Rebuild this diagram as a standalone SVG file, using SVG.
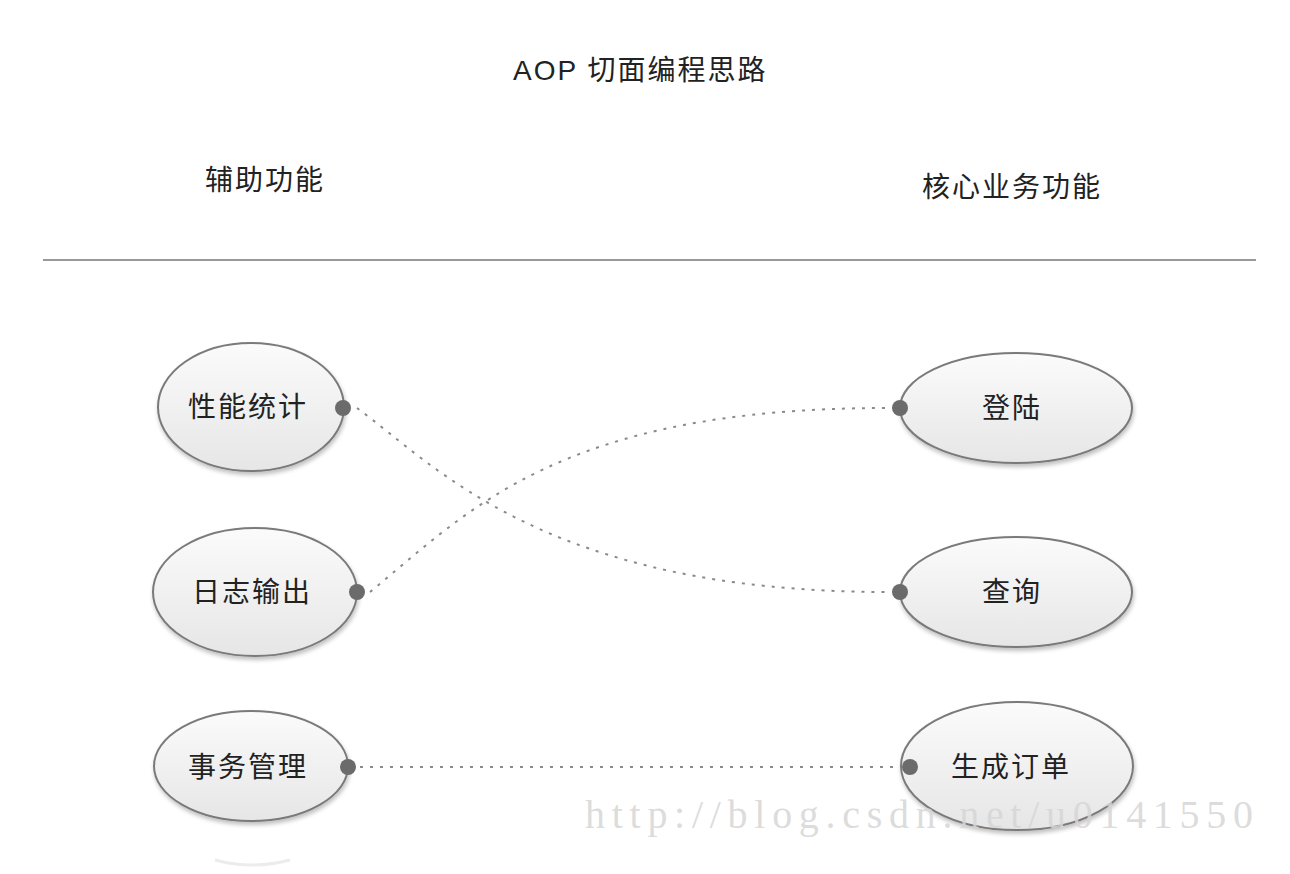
<svg xmlns="http://www.w3.org/2000/svg" width="1290" height="874" viewBox="0 0 1290 874">
<defs>
<linearGradient id="g" x1="0" y1="0" x2="0" y2="1">
<stop offset="0" stop-color="#fbfbfb"/>
<stop offset="1" stop-color="#e6e6e6"/>
</linearGradient>
<filter id="sh" x="-20%" y="-20%" width="140%" height="150%">
<feGaussianBlur in="SourceAlpha" stdDeviation="2"/>
<feOffset dx="1" dy="3"/>
<feComponentTransfer><feFuncA type="linear" slope="0.25"/></feComponentTransfer>
<feMerge><feMergeNode/><feMergeNode in="SourceGraphic"/></feMerge>
</filter>
</defs>
<style>
.t{font-family:"Liberation Sans","Noto Sans CJK SC",sans-serif;fill:#222;}
.h{font-size:28px;letter-spacing:2px;}
.n{font-size:28px;letter-spacing:2px;text-anchor:middle;}
.e{fill:url(#g);stroke:#7a7a7a;stroke-width:2;filter:url(#sh);}
.c{fill:none;stroke:#8a8a8a;stroke-width:2;stroke-dasharray:3 7;}
.d{fill:#6b6b6b;}
</style>
<rect width="1290" height="874" fill="#fff"/>
<text class="t h" x="513" y="80">AOP 切面编程思路</text>
<text class="t h" x="205" y="190">辅助功能</text>
<text class="t h" x="922" y="197">核心业务功能</text>
<line x1="43" y1="260" x2="1256" y2="260" stroke="#777" stroke-width="1.5"/>
<path d="M215,860 Q252,870 290,860" fill="none" stroke="#ececec" stroke-width="3"/>
<g id="connectors">
<path class="c" d="M357,408 C435,465 545,592 888,592"/>
<path class="c" d="M370,592 C470,510 560,408 888,408"/>
<path class="c" d="M360,767 L898,767"/>
</g>
<g id="n1"><ellipse class="e" cx="251" cy="407" rx="93" ry="64"/><text class="t n" x="248" y="417">性能统计</text><circle class="d" cx="343" cy="408" r="8"/></g>
<g id="n2"><ellipse class="e" cx="255" cy="592" rx="102" ry="64"/><text class="t n" x="252" y="602">日志输出</text><circle class="d" cx="357" cy="592" r="8"/></g>
<g id="n3"><ellipse class="e" cx="251" cy="766" rx="97" ry="55"/><text class="t n" x="248" y="777">事务管理</text><circle class="d" cx="348" cy="767" r="8"/></g>
<g id="n4"><ellipse class="e" cx="1016" cy="408" rx="116" ry="55"/><text class="t n" x="1012" y="418">登陆</text><circle class="d" cx="900" cy="408" r="8"/></g>
<g id="n5"><ellipse class="e" cx="1016" cy="592" rx="116" ry="55"/><text class="t n" x="1012" y="602">查询</text><circle class="d" cx="900" cy="592" r="8"/></g>
<g id="n6"><ellipse class="e" cx="1017" cy="766" rx="116" ry="64"/><text class="t n" x="1011" y="777">生成订单</text><circle class="d" cx="910" cy="767" r="8"/></g>
<text x="585" y="828" font-family="Liberation Serif, serif" font-size="40" fill="#d6d6d6" fill-opacity="0.85" textLength="668" lengthAdjust="spacing">http://blog.csdn.net/u0141550</text>
</svg>
